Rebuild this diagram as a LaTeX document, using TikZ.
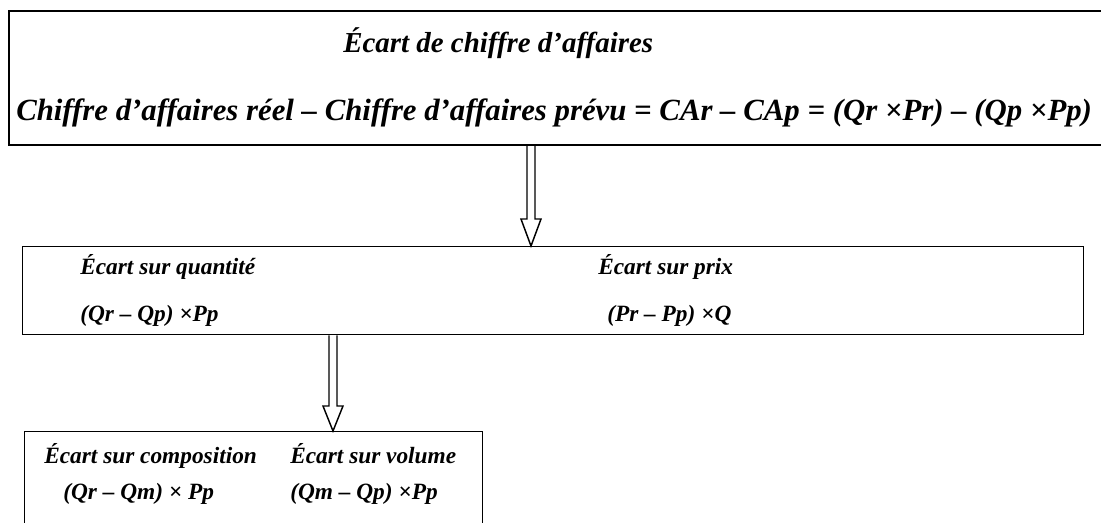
\documentclass[tikz,border=0pt]{standalone}
\usepackage{fontspec}
\setmainfont{Liberation Serif}
\usetikzlibrary{calc}

\begin{document}
\begin{tikzpicture}[x=0.75pt,y=-0.75pt,
		box/.style={draw, line width=1.1pt, anchor=north west, inner sep=0pt},
		lbl/.style={anchor=base west, inner sep=0pt, font=\fontsize{17.5}{21}\selectfont\bfseries\itshape},
		big/.style={lbl, font=\fontsize{21.7}{26}\selectfont\bfseries\itshape},
		hollow/.style={draw, line width=1.1pt, line join=miter}]
		\useasboundingbox (0,0) rectangle (1101,522);
		\node[box, line width=1.5pt, minimum width=825pt, minimum height=100.5pt] (top) at (8,10) {};
		\node[box, minimum width=795.75pt, minimum height=66pt] (mid) at (22,246) {};
		\node[box, minimum width=343.5pt, minimum height=81.75pt] (bot) at (24,431) {};
		\coordinate (a1) at (531,0);
		\coordinate (a2) at (333,0);
		\coordinate (s1) at (top.south -| a1);
		\coordinate (t1) at (mid.north -| a1);
		\coordinate (s2) at (mid.south -| a2);
		\coordinate (t2) at (bot.north -| a2);
		\draw[hollow] ($(s1)+(-4,0)$) -- ($(t1)+(-4,-27)$) -- ($(t1)+(-10,-27)$) -- (t1) -- ($(t1)+(10,-27)$) -- ($(t1)+(4,-27)$) -- ($(s1)+(4,0)$);
		\draw[hollow] ($(s2)+(-4,0)$) -- ($(t2)+(-4,-25)$) -- ($(t2)+(-10,-25)$) -- (t2) -- ($(t2)+(10,-25)$) -- ($(t2)+(4,-25)$) -- ($(s2)+(4,0)$);
		\node[big] (title) at (343,52) {Écart de chiffre d’affaires};
		\node[big, font=\fontsize{23.1}{28}\selectfont\bfseries\itshape] (formula) at (16,120) {Chiffre d’affaires réel – Chiffre d’affaires prévu = CAr – CAp = (Qr ×Pr) – (Qp ×Pp)};
		\begin{scope}
			\clip (mid.north west) rectangle ($(mid.south east)+(0,-9)$);
			\node[lbl] (qty) at (80,274) {Écart sur quantité};
			\node[lbl] (qtyf) at (80,321) {(Qr – Qp) ×Pp};
			\node[lbl] (price) at (598,274) {Écart sur prix};
			\node[lbl] (pricef) at (607,321) {(Pr – Pp) ×Q};
		\end{scope}
		\node[lbl] (comp) at (44,463) {Écart sur composition};
		\node[lbl] (compf) at (63,499) {(Qr – Qm) × Pp};
		\node[lbl] (vol) at (290,463) {Écart sur volume};
		\node[lbl] (volf) at (290,499) {(Qm – Qp) ×Pp};
	\end{tikzpicture}
\end{document}
